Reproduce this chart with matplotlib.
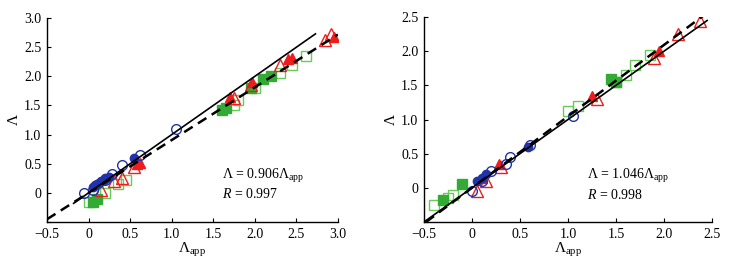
import matplotlib
matplotlib.use("Agg")
import matplotlib.pyplot as plt
import numpy as np

plt.rcParams['font.family'] = ['Liberation Serif', 'DejaVu Serif']
plt.rcParams['mathtext.fontset'] = 'custom'
plt.rcParams['mathtext.rm'] = 'Liberation Serif'
plt.rcParams['mathtext.it'] = 'Liberation Serif:italic'

# ---------------- Left panel data ----------------
L_blue_open_x = [-0.05, 0.05, 0.20, 0.28, 0.40, 0.62, 1.05]
L_blue_open_y = [0.00, 0.05, 0.22, 0.32, 0.47, 0.65, 1.10]
L_blue_fill_x = [0.05, 0.08, 0.10, 0.12, 0.15, 0.18, 0.20, 0.25, 0.55]
L_blue_fill_y = [0.10, 0.13, 0.15, 0.17, 0.20, 0.22, 0.25, 0.28, 0.60]
L_red_open_x = [0.15, 0.30, 0.40, 0.55, 1.75, 1.95, 2.30, 2.85, 2.92]
L_red_open_y = [0.05, 0.20, 0.25, 0.45, 1.62, 1.85, 2.20, 2.62, 2.72]
L_red_fill_x = [0.58, 0.62, 1.70, 1.97, 2.40, 2.45, 2.95]
L_red_fill_y = [0.50, 0.52, 1.65, 1.90, 2.30, 2.32, 2.68]
L_green_open_x = [0.00, 0.20, 0.35, 0.45, 1.75, 1.80, 2.00, 2.30, 2.45, 2.62]
L_green_open_y = [-0.15, 0.00, 0.15, 0.22, 1.50, 1.60, 1.80, 2.05, 2.20, 2.35]
L_green_fill_x = [0.05, 0.10, 1.60, 1.65, 1.95, 2.10, 2.20]
L_green_fill_y = [-0.15, -0.10, 1.42, 1.45, 1.80, 1.95, 2.00]
L_slope = 0.906
L_R = 0.997

# ---------------- Right panel data ----------------
R_blue_open_x = [0.00, 0.10, 0.20, 0.35, 0.40, 0.60, 1.05]
R_blue_open_y = [-0.05, 0.10, 0.25, 0.35, 0.45, 0.62, 1.05]
R_blue_fill_x = [0.05, 0.10, 0.15, 0.58]
R_blue_fill_y = [0.10, 0.15, 0.20, 0.60]
R_red_open_x = [0.05, 0.15, 0.30, 1.30, 1.90, 2.15, 2.38]
R_red_open_y = [-0.05, 0.10, 0.30, 1.30, 1.90, 2.25, 2.45]
R_red_fill_x = [0.10, 0.28, 1.25, 1.95]
R_red_fill_y = [0.15, 0.35, 1.35, 2.00]
R_green_open_x = [-0.40, -0.25, -0.20, 1.00, 1.10, 1.50, 1.60, 1.70, 1.85]
R_green_open_y = [-0.25, -0.15, -0.10, 1.12, 1.20, 1.55, 1.65, 1.80, 1.95]
R_green_fill_x = [-0.30, -0.10, 1.45, 1.50]
R_green_fill_y = [-0.18, 0.05, 1.60, 1.55]
R_slope = 1.046
R_R = 0.998

blue = '#2233aa'
red = '#ee1c1c'
green = '#33aa33'
lgreen = '#66cc55'

fig = plt.figure(figsize=(7.29, 2.59), dpi=100)
axL = fig.add_axes([0.0645, 0.143, 0.399, 0.787])
axR = fig.add_axes([0.5816, 0.143, 0.395, 0.791])

ms = 7

def fmt(t):
    if t < 0:
        return '\u22120.5'
    if t == 0:
        return '0'
    return f'{t:.1f}'

def draw(ax, d, slope, R, lim, solid_rng, dash_rng, txt_pos, ticks):
    (bo, bf, ro, rf, go, gf) = d
    ax.plot(*go, 's', ms=ms, mfc='none', mec=lgreen, mew=1.0, zorder=3)
    ax.plot(*gf, 's', ms=ms, mfc=green, mec=green, mew=1.0, zorder=3)
    ax.plot(*ro, '^', ms=ms + 1, mfc='none', mec=red, mew=1.0, zorder=3)
    ax.plot(*rf, '^', ms=ms, mfc=red, mec=red, mew=1.0, zorder=3)
    ax.plot(*bo, 'o', ms=ms, mfc='none', mec=blue, mew=1.0, zorder=3)
    ax.plot(*bf, 'o', ms=ms - 1, mfc=blue, mec=blue, mew=1.0, zorder=3)
    xs = np.array(solid_rng)
    ax.plot(xs, xs, '-', color='black', lw=1.2, zorder=4)
    xd = np.array(dash_rng)
    ax.plot(xd, slope * xd, '--', color='black', lw=1.8, dashes=(4, 2.5), zorder=4)
    ax.set_xlim(*lim[0])
    ax.set_ylim(*lim[1])
    ax.set_xticks(ticks[0])
    ax.set_yticks(ticks[1])
    ax.set_xticklabels([fmt(t) for t in ticks[0]])
    ax.set_yticklabels(['' if t < 0 else fmt(t) for t in ticks[1]])
    for s in ['top', 'right']:
        ax.spines[s].set_visible(False)
    for s in ['left', 'bottom']:
        ax.spines[s].set_linewidth(1.0)
    ax.tick_params(direction='in', length=3, width=0.8, labelsize=10, pad=4)
    ax.set_xlabel(r'$\Lambda_{\mathrm{app}}$', fontsize=11, labelpad=0)
    ax.set_ylabel(r'$\Lambda$', fontsize=11, labelpad=2)
    ax.text(txt_pos[0], txt_pos[1],
            r'$\Lambda$ = ' + f'{slope:.3f}' + r'$\Lambda_{\mathrm{app}}$' + '\n' + r'$R$ = ' + f'{R:.3f}',
            fontsize=10, va='top', ha='left', linespacing=1.2)

draw(axL,
     ((L_blue_open_x, L_blue_open_y), (L_blue_fill_x, L_blue_fill_y),
      (L_red_open_x, L_red_open_y), (L_red_fill_x, L_red_fill_y),
      (L_green_open_x, L_green_open_y), (L_green_fill_x, L_green_fill_y)),
     L_slope, L_R, ((-0.5, 3.0), (-0.5, 3.0)), (-0.18, 2.73), (-0.5, 3.0),
     (1.6, 0.45), ([-0.5, 0, 0.5, 1.0, 1.5, 2.0, 2.5, 3.0], [-0.5, 0, 0.5, 1.0, 1.5, 2.0, 2.5, 3.0]))

draw(axR,
     ((R_blue_open_x, R_blue_open_y), (R_blue_fill_x, R_blue_fill_y),
      (R_red_open_x, R_red_open_y), (R_red_fill_x, R_red_fill_y),
      (R_green_open_x, R_green_open_y), (R_green_fill_x, R_green_fill_y)),
     R_slope, R_R, ((-0.5, 2.5), (-0.5, 2.5)), (-0.5, 2.45), (-0.48, 2.45),
     (1.2, 0.3), ([-0.5, 0, 0.5, 1.0, 1.5, 2.0, 2.5], [-0.5, 0, 0.5, 1.0, 1.5, 2.0, 2.5]))

fig.savefig('out.png', dpi=100)
